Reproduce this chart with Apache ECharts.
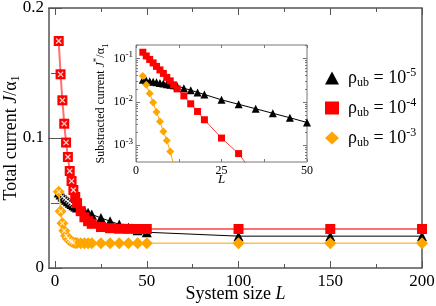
<!DOCTYPE html>
<html><head><meta charset="utf-8">
<script src="https://cdn.jsdelivr.net/npm/echarts@6/dist/echarts.min.js"></script>
<style>html,body{margin:0;padding:0;background:#fff}#c{width:436px;height:306px}</style>
</head><body><div id="c"></div>
<script>
// ---- data ----
const sizesL = [2,3,4,5,6,7,8,9,10,11,12,14,16,18,20,25,30,35,40,45,50,100,150,200];
const totalRho5 = [0.058,0.0565,0.055,0.0537,0.0525,0.0513,0.0502,0.0492,0.0483,0.0474,0.0466,0.0452,0.0438,0.0425,0.0412,0.0385,0.036,0.0335,0.031,0.029,0.0275,0.0245,0.0245,0.0245];
const totalRho4 = [0.1746,0.149,0.129,0.111,0.0965,0.0854,0.0746,0.0669,0.0600,0.0546,0.0499,0.0437,0.039,0.036,0.034,0.0315,0.0306,0.0302,0.0301,0.030,0.030,0.030,0.030,0.030];
const totalRho3 = [0.0587,0.0436,0.0345,0.0286,0.0248,0.0225,0.0211,0.0203,0.0197,0.0193,0.0192,0.0191,0.019,0.019,0.019,0.019,0.019,0.019,0.019,0.019,0.019,0.019,0.019,0.019];
const crossedCount = 9; // first points drawn with a white cross

const insetLRho5 = [2,3,4,5,6,7,8,9,10,11,12,14,16,18,20,25,30,35,40,45,50];
const insetRho5 = [0.0321,0.0309,0.0299,0.0290,0.0281,0.0272,0.0264,0.0255,0.0247,0.0240,0.0233,0.0206,0.0185,0.0165,0.0148,0.0111,0.00877,0.00691,0.00544,0.00429,0.00334];
const insetLRho4 = [2,3,4,5,6,7,8,9,10,11,12,14,16,18,20,25,30,35];
const insetRho4 = [0.139,0.114,0.0949,0.0788,0.0655,0.0544,0.0452,0.0366,0.0304,0.0246,0.0199,0.0137,0.0090,0.0060,0.00386,0.00146,0.00064,0.00019];
const insetLRho3 = [2,3,4,5,6,7,8,9,10,11];
const insetRho3 = [0.0396,0.0246,0.0155,0.0096,0.0058,0.00352,0.00208,0.00129,0.00072,0.00036];

const mainXTicks = [0,50,100,150,200];
const mainXMinor = [25,75,125,175];
const insetYMajor = [0.001,0.01,0.1];
const insetYMinor = [0.0005,0.0006,0.0007,0.0008,0.0009,0.002,0.003,0.004,0.005,0.006,0.007,0.008,0.009,0.02,0.03,0.04,0.05,0.06,0.07,0.08,0.09,0.2];
const legendLabels = {
  rho5: '{r|ρ}{s|ub}{r| = 10}{p|-5}',
  rho4: '{r|ρ}{s|ub}{r| = 10}{p|-4}',
  rho3: '{r|ρ}{s|ub}{r| = 10}{p|-3}'
};

// ---- chart ----
const FF = 'Liberation Serif';
const FRAME = '#555';
const zip = (xs, ys) => xs.map((x, i) => [x, ys[i]]);
const crossPath = 'path://M0,1.5L1.5,0L5,3.5L8.5,0L10,1.5L6.5,5L10,8.5L8.5,10L5,6.5L1.5,10L0,8.5L3.5,5Z';

const chart = echarts.init(document.getElementById('c'), null, {renderer: 'canvas'});

function tickAxis(extra) {
  return Object.assign({
    type: 'value', axisLine: {show: false}, splitLine: {show: false},
    axisLabel: {show: false}, axisTick: {show: true, inside: true, length: 7, lineStyle: {color: FRAME, width: 1}}
  }, extra);
}
function crossSeries(ys, z, size) {
  return {type: 'scatter', xAxisIndex: 0, yAxisIndex: 0, data: zip(sizesL, ys).slice(0, crossedCount),
    symbol: crossPath, symbolSize: size, itemStyle: {color: '#fff'}, silent: true, z: z};
}

const option = {
  animation: false,
  backgroundColor: '#fff',
  grid: [
    {left: 49, top: 8, right: 14, bottom: 38, show: true, borderColor: FRAME, borderWidth: 1.5, backgroundColor: 'transparent', containLabel: false, outerBoundsMode: 'none'},
    {left: 136, top: 45, width: 171, height: 117, show: true, borderColor: '#777', borderWidth: 1, backgroundColor: '#fff', z: 5, containLabel: false, outerBoundsMode: 'none'}
  ],
  xAxis: [
    tickAxis({gridIndex: 0, min: -3.3, max: 200, position: 'bottom',
      axisTick: {show: true, inside: true, length: 7, customValues: mainXTicks, lineStyle: {color: FRAME}},
      axisLabel: {show: true, customValues: mainXTicks, fontFamily: FF, fontSize: 17, color: '#000', margin: 5},
      name: '{n|System size }{i|L}', nameLocation: 'middle', nameGap: 17, nameMoveOverlap: false,
      nameTextStyle: {rich: {n: {fontFamily: FF, fontSize: 18, color: '#000'}, i: {fontFamily: FF, fontSize: 18, fontStyle: 'italic', color: '#000'}}}
    }),
    tickAxis({gridIndex: 0, min: -3.3, max: 200, position: 'bottom',
      axisTick: {show: true, inside: true, length: 4, customValues: mainXMinor, lineStyle: {color: FRAME}}}),
    tickAxis({gridIndex: 0, min: -3.3, max: 200, position: 'top',
      axisTick: {show: true, inside: true, length: 7, customValues: mainXTicks, lineStyle: {color: FRAME}}}),
    tickAxis({gridIndex: 0, min: -3.3, max: 200, position: 'top',
      axisTick: {show: true, inside: true, length: 4, customValues: mainXMinor, lineStyle: {color: FRAME}}}),
    {type: 'value', gridIndex: 1, min: 0, max: 50, interval: 25, position: 'bottom', z: 6,
      axisLine: {show: false}, splitLine: {show: false},
      axisTick: {show: true, inside: true, length: 3, lineStyle: {color: '#777'}},
      minorTick: {show: true, splitNumber: 2, length: 3, lineStyle: {color: '#777'}},
      axisLabel: {fontFamily: FF, fontSize: 12, color: '#000', margin: 3},
      name: 'L', nameLocation: 'middle', nameGap: 11, nameMoveOverlap: false,
      nameTextStyle: {fontFamily: FF, fontSize: 13, fontStyle: 'italic', color: '#000'}},
    {type: 'value', gridIndex: 1, min: 0, max: 50, interval: 25, position: 'top', z: 6,
      axisLine: {show: false}, splitLine: {show: false}, axisLabel: {show: false},
      axisTick: {show: true, inside: true, length: 3, lineStyle: {color: '#777'}},
      minorTick: {show: true, splitNumber: 2, length: 3, lineStyle: {color: '#777'}}}
  ],
  yAxis: [
    {type: 'value', gridIndex: 0, min: 0, max: 0.2, interval: 0.1, position: 'left',
      axisLine: {show: false}, splitLine: {show: false},
      axisTick: {show: true, inside: true, length: 7, lineStyle: {color: FRAME}},
      minorTick: {show: true, splitNumber: 2, length: 4, lineStyle: {color: FRAME}},
      axisLabel: {fontFamily: FF, fontSize: 17, color: '#000', margin: 5},
      name: '{n|Total current }{i|J}{n|/α}{s|1}', nameLocation: 'middle', nameRotate: 90, nameGap: 27, nameMoveOverlap: false,
      nameTextStyle: {rich: {
        n: {fontFamily: FF, fontSize: 18, color: '#000', lineHeight: 22},
        i: {fontFamily: FF, fontSize: 18, fontStyle: 'italic', color: '#000', lineHeight: 22},
        s: {fontFamily: FF, fontSize: 12, color: '#000', verticalAlign: 'bottom', lineHeight: 12}}}},
    {type: 'value', gridIndex: 0, min: 0, max: 0.2, interval: 0.1, position: 'right',
      axisLine: {show: false}, splitLine: {show: false}, axisLabel: {show: false},
      axisTick: {show: true, inside: true, length: 7, lineStyle: {color: FRAME}},
      minorTick: {show: true, splitNumber: 2, length: 4, lineStyle: {color: FRAME}}},
    {type: 'log', logBase: 10, gridIndex: 1, min: 0.00041, max: 0.204, position: 'left', z: 6,
      axisLine: {show: false}, splitLine: {show: false},
      axisTick: {show: true, inside: true, length: 4, customValues: insetYMajor, lineStyle: {color: '#777'}},
      axisLabel: {show: true, customValues: insetYMajor, margin: 3,
        formatter: v => '{b|10}{e|' + Math.round(Math.log10(v)) + '}',
        rich: {b: {fontFamily: FF, fontSize: 12, color: '#000', lineHeight: 16},
               e: {fontFamily: FF, fontSize: 9, color: '#000', verticalAlign: 'top', lineHeight: 9}}},
      name: '{n|Substracted current }{i|J}{e|*}{n|/α}{s|1}', nameLocation: 'middle', nameRotate: 90, nameGap: 26, nameMoveOverlap: false,
      nameTextStyle: {rich: {
        n: {fontFamily: FF, fontSize: 12, color: '#000', lineHeight: 18},
        i: {fontFamily: FF, fontSize: 12, fontStyle: 'italic', color: '#000', lineHeight: 18},
        e: {fontFamily: FF, fontSize: 9, color: '#000', verticalAlign: 'top', lineHeight: 9},
        s: {fontFamily: FF, fontSize: 9, color: '#000', verticalAlign: 'bottom', lineHeight: 9}}}},
    {type: 'log', logBase: 10, gridIndex: 1, min: 0.00041, max: 0.204, position: 'left', z: 6,
      axisLine: {show: false}, splitLine: {show: false}, axisLabel: {show: false},
      axisTick: {show: true, inside: true, length: 2, customValues: insetYMinor, lineStyle: {color: '#777'}}},
    {type: 'log', logBase: 10, gridIndex: 1, min: 0.00041, max: 0.204, position: 'right', z: 6,
      axisLine: {show: false}, splitLine: {show: false}, axisLabel: {show: false},
      axisTick: {show: true, inside: true, length: 4, customValues: insetYMajor, lineStyle: {color: '#777'}}},
    {type: 'log', logBase: 10, gridIndex: 1, min: 0.00041, max: 0.204, position: 'right', z: 6,
      axisLine: {show: false}, splitLine: {show: false}, axisLabel: {show: false},
      axisTick: {show: true, inside: true, length: 2, customValues: insetYMinor, lineStyle: {color: '#777'}}}
  ],
  legend: {
    orient: 'vertical', left: 320, top: 62, itemWidth: 14, itemHeight: 13, itemGap: 8,
    data: [{name: 'rho5', icon: 'triangle'}, {name: 'rho4', icon: 'rect'}, {name: 'rho3', icon: 'diamond'}],
    formatter: n => legendLabels[n],
    textStyle: {padding: [0, 0, 0, 4], rich: {
      r: {fontFamily: FF, fontSize: 18, color: '#000', lineHeight: 22},
      s: {fontFamily: FF, fontSize: 12, color: '#000', verticalAlign: 'bottom', lineHeight: 12},
      p: {fontFamily: FF, fontSize: 12, color: '#000', verticalAlign: 'top', lineHeight: 12}}}
  },
  series: [
    {type: 'line', name: 'rho5', xAxisIndex: 0, yAxisIndex: 0, data: zip(sizesL, totalRho5),
      symbol: 'triangle', symbolSize: 10, itemStyle: {color: '#000'}, lineStyle: {color: '#000', width: 1}, z: 2},
    crossSeries(totalRho5, 2.5, 5),
    {type: 'line', name: 'rho3', xAxisIndex: 0, yAxisIndex: 0, data: zip(sizesL, totalRho3),
      symbol: 'diamond', symbolSize: 12, itemStyle: {color: '#ffa500'}, lineStyle: {color: '#ffc04d', width: 1.5}, z: 2.6},
    crossSeries(totalRho3, 2.7, 5),
    {type: 'line', name: 'rho4', xAxisIndex: 0, yAxisIndex: 0, data: zip(sizesL, totalRho4),
      symbol: 'rect', symbolSize: 10, itemStyle: {color: '#ff0000'}, lineStyle: {color: '#ff6f6f', width: 2}, z: 3},
    crossSeries(totalRho4, 4, 6),
    {type: 'line', name: 'rho5', xAxisIndex: 4, yAxisIndex: 2, data: zip(insetLRho5, insetRho5),
      symbol: 'triangle', symbolSize: 8, itemStyle: {color: '#000'}, lineStyle: {color: '#000', width: 1}, z: 7},
    {type: 'line', name: 'rho4', xAxisIndex: 4, yAxisIndex: 2, data: zip(insetLRho4, insetRho4),
      symbol: 'rect', symbolSize: 7, itemStyle: {color: '#ff0000'}, lineStyle: {color: '#ff4040', width: 1}, z: 7},
    {type: 'line', name: 'rho3', xAxisIndex: 4, yAxisIndex: 2, data: zip(insetLRho3, insetRho3),
      symbol: 'diamond', symbolSize: 8, itemStyle: {color: '#ffa500'}, lineStyle: {color: '#ffa500', width: 1}, z: 7}
  ]
};
chart.setOption(option);
</script></body></html>
